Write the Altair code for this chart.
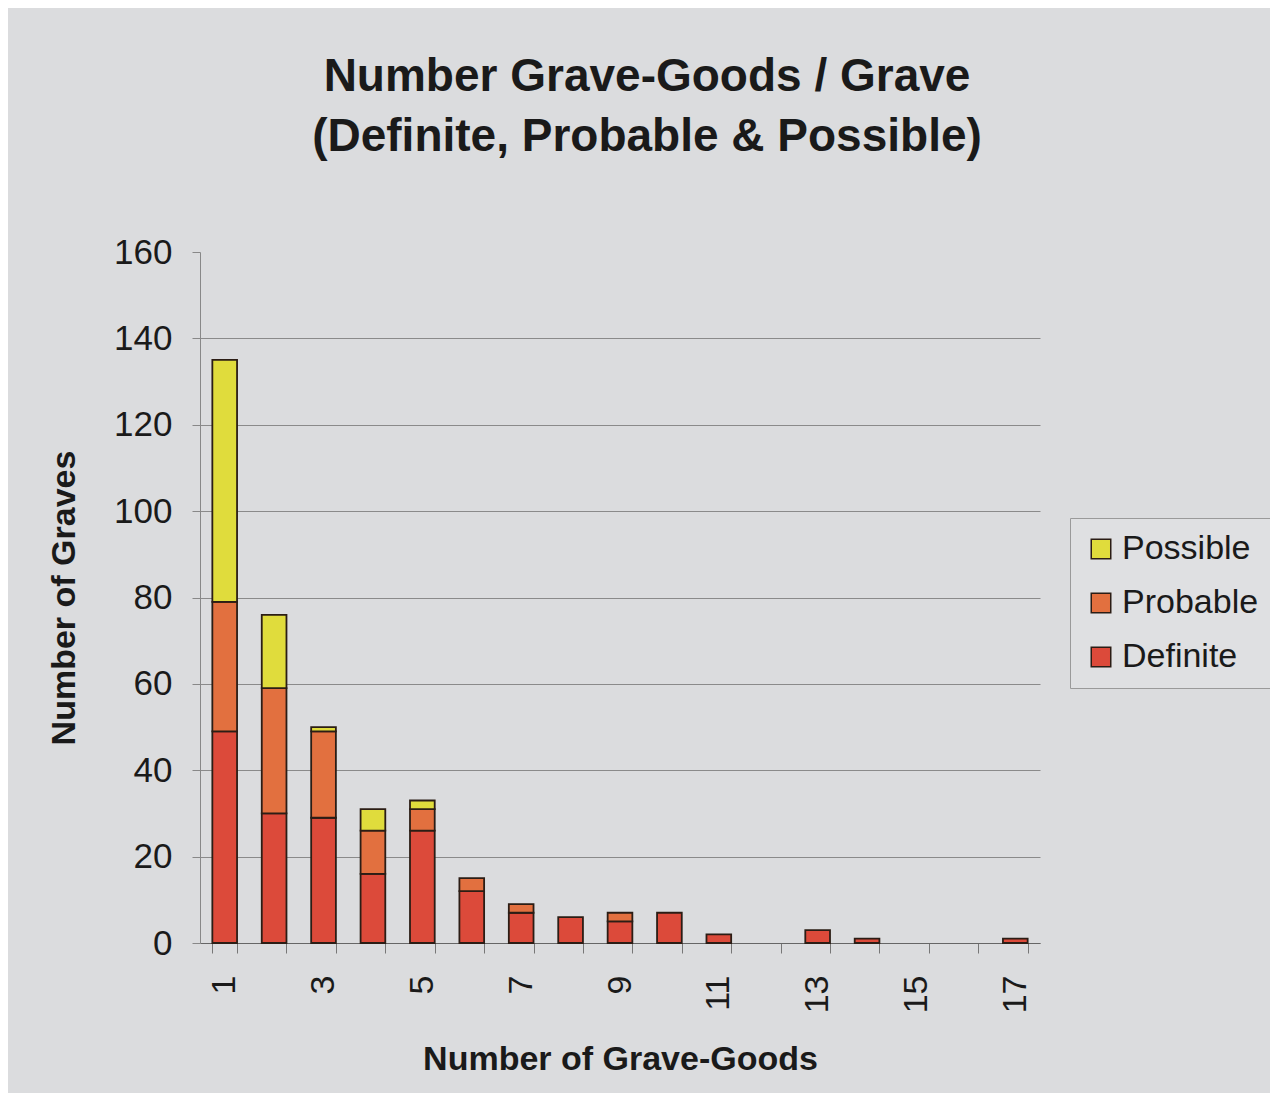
import altair as alt
import pandas as pd

goods = list(range(1, 18))
definite = [49, 30, 29, 16, 26, 12, 7, 6, 5, 7, 2, 0, 3, 1, 0, 0, 1]
probable = [30, 29, 20, 10, 5, 3, 2, 0, 2, 0, 0, 0, 0, 0, 0, 0, 0]
possible = [56, 17, 1, 5, 2, 0, 0, 0, 0, 0, 0, 0, 0, 0, 0, 0, 0]

statuses = ["Possible", "Probable", "Definite"]
colors = ["#e0dc3c", "#e2703f", "#dc4a3a"]
stack_order = {"Definite": 0, "Probable": 1, "Possible": 2}

rows = []
for g, d, pr, po in zip(goods, definite, probable, possible):
    for s, v in (("Definite", d), ("Probable", pr), ("Possible", po)):
        if v > 0:
            rows.append({"goods": g, "status": s, "count": v, "ord": stack_order[s]})
df = pd.DataFrame(rows)

FONT = "Liberation Sans"

chart = alt.Chart(df).mark_bar(
    stroke="#2b1d15", strokeWidth=1.8
).encode(
    x=alt.X(
        "goods:O",
        scale=alt.Scale(domain=goods, paddingInner=0.5, paddingOuter=0.25),
        axis=alt.Axis(
            title="Number of Grave-Goods",
            labelAngle=-90,
            labelExpr="datum.value % 2 == 1 ? datum.label : ''",
            tickBand="extent",
            tickSize=10,
            tickColor="#777777",
            domainColor="#666666",
            labelFontSize=34,
            labelFont=FONT,
            labelColor="#1a1a1a",
            labelPadding=22,
            titleFont=FONT,
            titleFontSize=34,
            titleFontWeight="bold",
            titleColor="#1a1a1a",
            titlePadding=30,
        ),
    ),
    y=alt.Y(
        "count:Q",
        stack="zero",
        scale=alt.Scale(domain=[0, 160]),
        axis=alt.Axis(
            title="Number of Graves",
            values=[0, 20, 40, 60, 80, 100, 120, 140, 160],
            grid=True,
            gridColor="#8a8a8a",
            gridWidth=1,
            gridOpacity=alt.condition("datum.value == 160", alt.value(0), alt.value(1)),
            tickSize=8,
            tickColor="#888888",
            domainColor="#888888",
            labelFontSize=35,
            labelFont=FONT,
            labelColor="#1a1a1a",
            labelPadding=20,
            titleFont=FONT,
            titleFontSize=34,
            titleFontWeight="bold",
            titleColor="#1a1a1a",
            titlePadding=32,
        ),
    ),
    color=alt.Color(
        "status:N",
        scale=alt.Scale(domain=statuses, range=colors),
        legend=alt.Legend(
            title=None,
            orient="none",
            legendX=870,
            legendY=266,
            symbolType="square",
            symbolSize=380,
            symbolStrokeColor="#2b1d15",
            symbolStrokeWidth=1.5,
            labelFont=FONT,
            labelFontSize=34,
            labelColor="#1a1a1a",
            rowPadding=20,
            padding=14,
            fillColor="#dfe0e2",
            strokeColor="#9a9a9a",
        ),
    ),
    order=alt.Order("ord:Q"),
).properties(
    width=840,
    height=691,
    title=alt.TitleParams(
        text=["Number Grave-Goods / Grave", "(Definite, Probable & Possible)"],
        font=FONT,
        fontSize=46,
        fontWeight="bold",
        color="#1a1a1a",
        anchor="middle",
        frame="group",
        dx=27,
        lineHeight=60,
        offset=74,
    ),
    autosize=alt.AutoSizeParams(type="none"),
    padding={"left": 192, "top": 244, "right": 230, "bottom": 150},
).configure(
    background="#dbdcde",
).configure_view(
    stroke=None,
)

chart.save("out.html", embed_options={"renderer": "svg", "actions": False})
